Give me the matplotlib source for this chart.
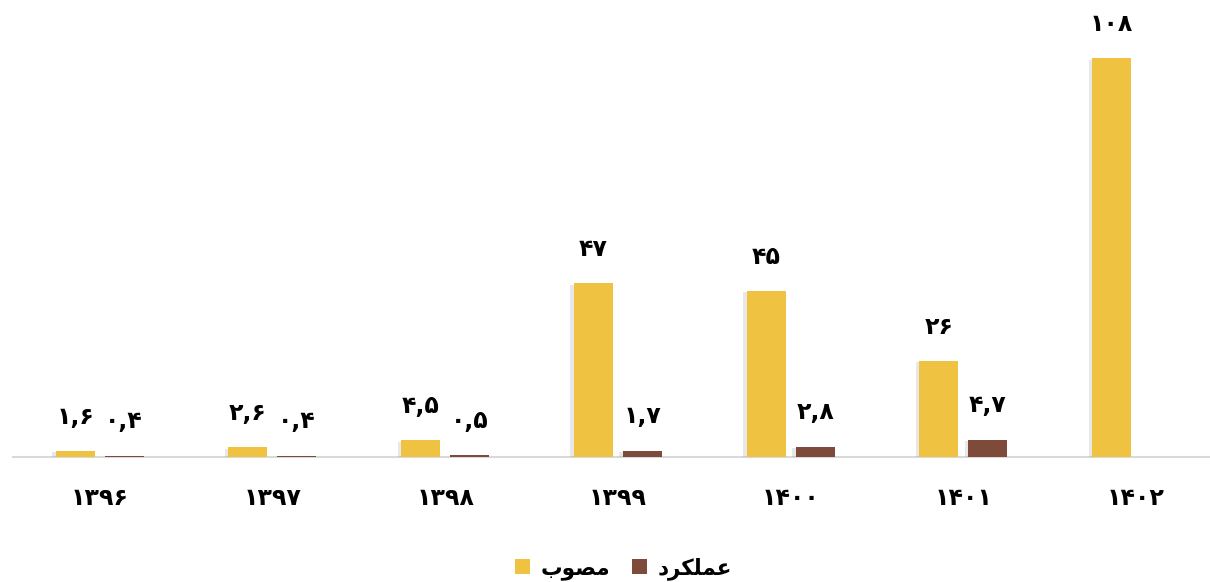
import matplotlib
matplotlib.use("Agg")
import matplotlib.pyplot as plt
import matplotlib.patheffects as pe
import numpy as np

plt.rcParams['font.family'] = ['DejaVu Sans']
plt.rcParams['font.weight'] = 'bold'

# Data
years = ['1396', '1397', '1398', '1399', '1400', '1401', '1402']
approved = [1.6, 2.6, 4.5, 47, 45, 26, 108]          # مصوب
performance = [0.4, 0.4, 0.5, 1.7, 2.8, 4.7, None]  # عملکرد

# Legend labels (Persian, shaped presentation forms in visual order)
label_approved = "\uFE8F\uFEEE\uFEBC\uFEE3"               # مصوب
label_perf = "\uFEA9\uFEAE\uFB91\uFEE0\uFEE4\uFECB"       # عملکرد

YELLOW = '#F0C242'
BROWN = '#7E4B3B'

FA = str.maketrans('0123456789', '۰۱۲۳۴۵۶۷۸۹')

def fa_num(v):
    if float(v).is_integer():
        s = str(int(v))
    else:
        s = f"{v:.1f}".replace('.', ',')
    return s.translate(FA)

fig = plt.figure(figsize=(12.1, 5.82), dpi=100)
ax = fig.add_axes([0.011, 0.2148, 0.995, 0.7612])

x = np.arange(len(years))
w = 0.226
off = 0.142

shadow = [pe.SimplePatchShadow(offset=(-2.5, -1), alpha=0.18, shadow_rgbFace='gray'), pe.Normal()]

b1 = ax.bar(x - off, approved, width=w, color=YELLOW, zorder=3, label=label_approved)
px = [i for i, v in enumerate(performance) if v is not None]
pv = [performance[i] for i in px]
b2 = ax.bar(np.array(px) + off, pv, width=w, color=BROWN, zorder=3, label=label_perf)
for bar in list(b1) + list(b2):
    bar.set_path_effects(shadow)

for xi, v in zip(x - off, approved):
    ax.annotate(fa_num(v), (xi, v), xytext=(0, 16), textcoords='offset points',
                ha='center', va='bottom', fontsize=17, fontweight='bold', clip_on=False)
for xi, v in zip(np.array(px) + off, pv):
    ax.annotate(fa_num(v), (xi, v), xytext=(0, 16), textcoords='offset points',
                ha='center', va='bottom', fontsize=17, fontweight='bold', clip_on=False)

ax.set_xlim(-0.5, 6.47)
ax.set_ylim(0, 120)
ax.set_xticks(x)
ax.set_xticklabels([y.translate(FA) for y in years], fontsize=17, fontweight='bold')
ax.tick_params(axis='x', length=0, pad=21)
ax.set_yticks([])
for s in ['top', 'right', 'left']:
    ax.spines[s].set_visible(False)
ax.spines['bottom'].set_color('#d9d9d9')
ax.spines['bottom'].set_linewidth(1.5)
ax.spines['bottom'].set_zorder(2)

leg = fig.legend(handles=[b1, b2], labels=[label_approved, label_perf],
                 loc='lower center', bbox_to_anchor=(0.515, -0.03), ncol=2, frameon=False,
                 prop={'size': 15.5, 'weight': 'bold'}, handlelength=0.7, handleheight=0.7,
                 handletextpad=0.5, columnspacing=1.0)
for h in leg.legend_handles:
    h.set_path_effects([])

fig.savefig('out.png', dpi=100)
